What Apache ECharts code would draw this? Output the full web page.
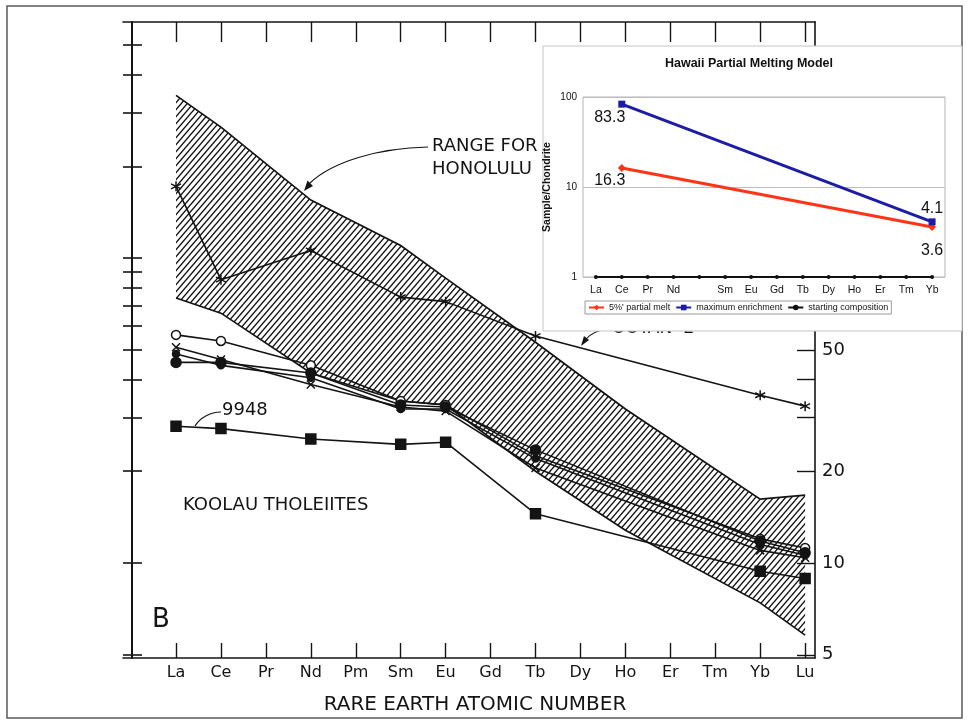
<!DOCTYPE html>
<html>
<head>
<meta charset="utf-8">
<script src="https://cdn.jsdelivr.net/npm/echarts@6/dist/echarts.min.js"></script>
<style>
  html, body { margin: 0; padding: 0; background: #fff; }
  #chart { width: 968px; height: 723px; }
</style>
</head>
<body>
<div id="chart"></div>
<script>
// ---- Rare earth elements (atomic numbers 57..71) ----
const reeSymbols = ['La', 'Ce', 'Pr', 'Nd', 'Pm', 'Sm', 'Eu', 'Gd', 'Tb', 'Dy', 'Ho', 'Er', 'Tm', 'Yb', 'Lu'];
const reeNumbers = [57, 58, 59, 60, 61, 62, 63, 64, 65, 66, 67, 68, 69, 70, 71];

// Elements analysed in the samples: La Ce Nd Sm Eu Tb Yb Lu
const measuredZ = [57, 58, 60, 62, 63, 65, 70, 71];

// Range for Honolulu volcanics (upper / lower envelope)
const honoluluZ = [57, 58, 60, 62, 63, 65, 67, 70, 71];
const honoluluHigh = [342, 269, 155, 110, 86, 53, 32, 16.2, 16.7];
const honoluluLow = [74, 66, 42, 34, 33, 20, 12.8, 7.4, 5.8];

// Strongly enriched sample plotted with asterisks
const enrichedSample = [172, 85, 106, 74.5, 72, 55.5, 35.5, 32.7];

// Koolau tholeiites
const koolauOpen = [56, 53.5, 44.5, 34, 33, 22.5, 12, 11.2];
const koolauFilled = [45.5, 45.5, 42, 33, 32.5, 23.5, 11.8, 10.8];
const koolauCross = [51, 46.5, 38.5, 32.5, 31.5, 20.5, 11, 10.4];
const koolauDot = [48.5, 44.5, 40.5, 32, 32, 22, 11.5, 10.6];
const sample9948 = [28.1, 27.6, 25.5, 24.5, 24.9, 14.5, 9.4, 8.9];

// Chondrite-normalised axis ticks and labels
const leftTicks = [5, 10, 20, 30, 40, 50, 60, 70, 80, 90, 100, 200, 300, 400, 500];
const rightTicks = [5, 10, 20, 30, 40, 50];
const rightLabels = [5, 10, 20, 50];

// ---- Hawaii partial melting model ----
const modelCategories = ['La', 'Ce', 'Pr', 'Nd', '', 'Sm', 'Eu', 'Gd', 'Tb', 'Dy', 'Ho', 'Er', 'Tm', 'Yb'];
const partialMelt = ['-', 16.3, '-', '-', '-', '-', '-', '-', '-', '-', '-', '-', '-', 3.6];
const maxEnrichment = ['-', 83.3, '-', '-', '-', '-', '-', '-', '-', '-', '-', '-', '-', 4.1];
const startingComposition = [1, 1, 1, 1, 1, 1, 1, 1, 1, 1, 1, 1, 1, 1];

const INK = '#141414';
const FONT = 'DejaVu Sans';
const SANS = 'Liberation Sans';

// diagonal hatching used for the Honolulu range
function makeHatch() {
  const w = 6, h = 7;
  const c = document.createElement('canvas');
  c.width = w; c.height = h;
  const ctx = c.getContext('2d');
  ctx.strokeStyle = '#111';
  ctx.lineWidth = 1.4;
  for (let dx = -w; dx <= w; dx += w) {
    for (let dy = -h; dy <= h; dy += h) {
      ctx.beginPath();
      ctx.moveTo(dx, dy + h);
      ctx.lineTo(dx + w, dy);
      ctx.stroke();
    }
  }
  return { image: c, repeat: 'repeat' };
}
const hatch = makeHatch();

const asterisk = 'path://M5,0L5,10M0.7,2.5L9.3,7.5M0.7,7.5L9.3,2.5';
const cross = 'path://M0,0L10,10M0,10L10,0';

function sampleSeries(name, values, symbol, size, fill, z) {
  return {
    type: 'line', name: name, xAxisIndex: 0, yAxisIndex: 0,
    data: measuredZ.map((zz, i) => [zz, values[i]]),
    symbol: symbol, symbolSize: size, showAllSymbol: true,
    lineStyle: { color: INK, width: 1.6 },
    itemStyle: { color: fill, borderColor: INK, borderWidth: 1.5 },
    z: z, silent: true, clip: false
  };
}

function pointLabel(i, endPos, endDist, ceOffset) {
  if (i === 1) return { position: 'inside', offset: ceOffset };
  return { position: endPos, distance: endDist };
}

const chart = echarts.init(document.getElementById('chart'), null, { renderer: 'canvas' });

const option = {
  animation: false,
  backgroundColor: '#fff',
  grid: [
    { left: 123, right: 153, top: 22, bottom: 65, show: false },
    { left: 583, top: 97, width: 362, height: 180, show: true, borderColor: '#b5b5b5', borderWidth: 1, backgroundColor: 'transparent', z: 10 }
  ],
  xAxis: [
    {
      type: 'value', gridIndex: 0, position: 'bottom', min: 55.82, max: 71.22,
      axisLine: { onZero: false, lineStyle: { color: INK, width: 1.6 } },
      axisTick: { inside: true, length: 15, customValues: reeNumbers, lineStyle: { color: INK, width: 1.4 } },
      axisLabel: {
        customValues: reeNumbers, margin: 7, color: INK, fontFamily: FONT, fontSize: 16,
        formatter: v => reeSymbols[v - 57]
      },
      splitLine: { show: false },
      name: 'RARE EARTH ATOMIC NUMBER', nameLocation: 'middle', nameGap: 37,
      nameTextStyle: { color: INK, fontFamily: FONT, fontSize: 20, padding: [0, 0, 0, 12] }
    },
    {
      type: 'value', gridIndex: 0, position: 'top', min: 55.82, max: 71.22,
      axisLine: { onZero: false, lineStyle: { color: INK, width: 1.6 } },
      axisTick: { inside: true, length: 20, customValues: reeNumbers, lineStyle: { color: INK, width: 1.4 } },
      axisLabel: { show: false },
      splitLine: { show: false }
    },
    {
      type: 'category', gridIndex: 1, data: modelCategories, boundaryGap: true, z: 10,
      axisLine: { show: false }, axisTick: { show: false },
      axisLabel: { interval: 0, margin: 8, color: '#111', fontFamily: SANS, fontSize: 10.5 },
      splitLine: { show: false }
    }
  ],
  yAxis: [
    {
      type: 'log', gridIndex: 0, position: 'left', offset: -9, min: 4.88, max: 595,
      axisLine: { onZero: false, lineStyle: { color: INK, width: 2 } },
      axisTick: { inside: true, length: 10, customValues: leftTicks, lineStyle: { color: INK, width: 1.6 } },
      axisLabel: { show: false }, splitLine: { show: false }
    },
    {
      type: 'log', gridIndex: 0, position: 'left', offset: -9, min: 4.88, max: 595,
      axisLine: { show: false },
      axisTick: { inside: false, length: 9, customValues: leftTicks, lineStyle: { color: INK, width: 1.6 } },
      axisLabel: { show: false }, splitLine: { show: false }
    },
    {
      type: 'log', gridIndex: 0, position: 'right', min: 4.88, max: 595,
      axisLine: { onZero: false, lineStyle: { color: INK, width: 1.6 } },
      axisTick: { inside: true, length: 18, customValues: rightTicks, lineStyle: { color: INK, width: 1.4 } },
      axisLabel: { customValues: rightLabels, margin: 7, color: INK, fontFamily: FONT, fontSize: 18 },
      splitLine: { show: false }
    },
    {
      type: 'log', gridIndex: 1, min: 1, max: 100, logBase: 10, z: 10,
      axisLine: { show: false }, axisTick: { show: false },
      axisLabel: { color: '#111', fontFamily: SANS, fontSize: 10, margin: 6 },
      splitLine: { show: true, lineStyle: { color: '#bdbdbd', width: 1 } },
      name: 'Sample/Chondrite', nameLocation: 'middle', nameGap: 30, nameRotate: 90,
      nameTextStyle: { color: '#111', fontFamily: SANS, fontSize: 10.5, fontWeight: 'bold' }
    }
  ],
  legend: {
    data: ["5%' partial melt", 'maximum enrichment', 'starting composition'],
    left: 585, top: 301, orient: 'horizontal',
    itemWidth: 15, itemHeight: 7, itemGap: 5, padding: [2, 3],
    borderColor: '#9a9a9a', borderWidth: 1, backgroundColor: '#fff',
    textStyle: { color: '#111', fontFamily: SANS, fontSize: 9 },
    z: 12
  },
  series: [
    {
      type: 'custom', name: 'Honolulu range', xAxisIndex: 0, yAxisIndex: 0, silent: true, z: 1,
      data: [[honoluluZ[0], honoluluHigh[0]]],
      renderItem: function (params, api) {
        const upper = honoluluZ.map((zz, i) => api.coord([zz, honoluluHigh[i]]));
        const lower = honoluluZ.map((zz, i) => api.coord([zz, honoluluLow[i]]));
        const poly = upper.concat(lower.slice().reverse());
        return {
          type: 'group',
          children: [
            { type: 'polygon', shape: { points: poly }, style: { fill: hatch, stroke: null } },
            { type: 'polyline', shape: { points: upper }, style: { fill: null, stroke: INK, lineWidth: 1.7 } },
            { type: 'polyline', shape: { points: lower }, style: { fill: null, stroke: INK, lineWidth: 1.7 } }
          ]
        };
      }
    },
    sampleSeries('enriched', enrichedSample, asterisk, 10, 'none', 3),
    sampleSeries('koolau open', koolauOpen, 'circle', 9, '#fff', 4),
    sampleSeries('koolau filled', koolauFilled, 'circle', 10, INK, 4),
    sampleSeries('koolau cross', koolauCross, cross, 8, 'none', 4),
    sampleSeries('koolau dot', koolauDot, 'circle', 7, INK, 4),
    sampleSeries('9948', sample9948, 'rect', 10, INK, 4),
    {
      type: 'line', name: 'starting composition', xAxisIndex: 2, yAxisIndex: 3, z: 11,
      data: startingComposition, symbol: 'circle', symbolSize: 4, showAllSymbol: true,
      lineStyle: { color: '#111', width: 1.8 }, itemStyle: { color: '#111' }
    },
    {
      type: 'line', name: "5%' partial melt", xAxisIndex: 2, yAxisIndex: 3, z: 12,
      data: partialMelt.map((v, i) => v === '-' ? '-' : { value: v, label: pointLabel(i, 'bottom', 12, [-12, 13]) }),
      connectNulls: true, symbol: 'diamond', symbolSize: 8,
      lineStyle: { color: '#ff3417', width: 3 }, itemStyle: { color: '#ff3417' },
      label: { show: true, color: '#111', fontFamily: SANS, fontSize: 16 }
    },
    {
      type: 'line', name: 'maximum enrichment', xAxisIndex: 2, yAxisIndex: 3, z: 12,
      data: maxEnrichment.map((v, i) => v === '-' ? '-' : { value: v, label: pointLabel(i, 'top', 2, [-12, 13]) }),
      connectNulls: true, symbol: 'rect', symbolSize: 7,
      lineStyle: { color: '#1c1ca6', width: 3 }, itemStyle: { color: '#1c1ca6' },
      label: { show: true, color: '#111', fontFamily: SANS, fontSize: 16 }
    }
  ],
  graphic: {
    elements: [
      // page frame
      { type: 'rect', z: 0, silent: true, shape: { x: 7, y: 6, width: 955, height: 712 },
        style: { fill: null, stroke: '#5a5a5a', lineWidth: 1.5 } },
      // annotations on the REE plot
      { type: 'text', z: 3, silent: true, x: 432, y: 146,
        style: { text: 'RANGE FOR', fill: INK, font: '18px "DejaVu Sans"', verticalAlign: 'middle' } },
      { type: 'text', z: 3, silent: true, x: 432, y: 169,
        style: { text: 'HONOLULU', fill: INK, font: '18px "DejaVu Sans"', verticalAlign: 'middle' } },
      { type: 'bezierCurve', z: 3, silent: true,
        shape: { x1: 428, y1: 147, cpx1: 378, cpy1: 148, cpx2: 332, cpy2: 162, x2: 310, y2: 183 },
        style: { stroke: INK, lineWidth: 1.2, fill: null } },
      { type: 'polygon', z: 3, silent: true,
        shape: { points: [[304, 191], [313, 186], [307.5, 180.5]] }, style: { fill: INK } },
      { type: 'text', z: 3, silent: true, x: 183, y: 505,
        style: { text: 'KOOLAU THOLEIITES', fill: INK, font: '18px "DejaVu Sans"', verticalAlign: 'middle' } },
      { type: 'text', z: 3, silent: true, x: 222, y: 410,
        style: { text: '9948', fill: INK, font: '18px "DejaVu Sans"', verticalAlign: 'middle' } },
      { type: 'bezierCurve', z: 3, silent: true,
        shape: { x1: 221, y1: 412, cpx1: 210, cpy1: 412, cpx2: 200, cpy2: 418, x2: 195, y2: 426 },
        style: { stroke: INK, lineWidth: 1.2, fill: null } },
      { type: 'text', z: 3, silent: true, x: 152, y: 620,
        style: { text: 'B', fill: INK, font: '26px "DejaVu Sans"', verticalAlign: 'middle' } },
      { type: 'text', z: 3, silent: true, x: 612, y: 329,
        style: { text: 'OOTAN  E', fill: INK, font: '17px "DejaVu Sans"', verticalAlign: 'middle' } },
      { type: 'bezierCurve', z: 3, silent: true,
        shape: { x1: 610, y1: 328, cpx1: 598, cpy1: 330, cpx2: 589, cpy2: 335, x2: 585, y2: 340 },
        style: { stroke: INK, lineWidth: 1.2, fill: null } },
      { type: 'polygon', z: 3, silent: true,
        shape: { points: [[581, 346], [589, 340], [584, 336]] }, style: { fill: INK } },
      // model panel background
      { type: 'rect', z: 5, silent: true, shape: { x: 543, y: 46, width: 419, height: 285 },
        style: { fill: '#fff', stroke: '#c4c4c4', lineWidth: 1 } },
      { type: 'text', z: 12, silent: true, x: 749, y: 64,
        style: { text: 'Hawaii Partial Melting Model', fill: '#111', font: 'bold 12.5px "Liberation Sans"', align: 'center', verticalAlign: 'middle' } }
    ]
  }
};

chart.setOption(option);
</script>
</body>
</html>
